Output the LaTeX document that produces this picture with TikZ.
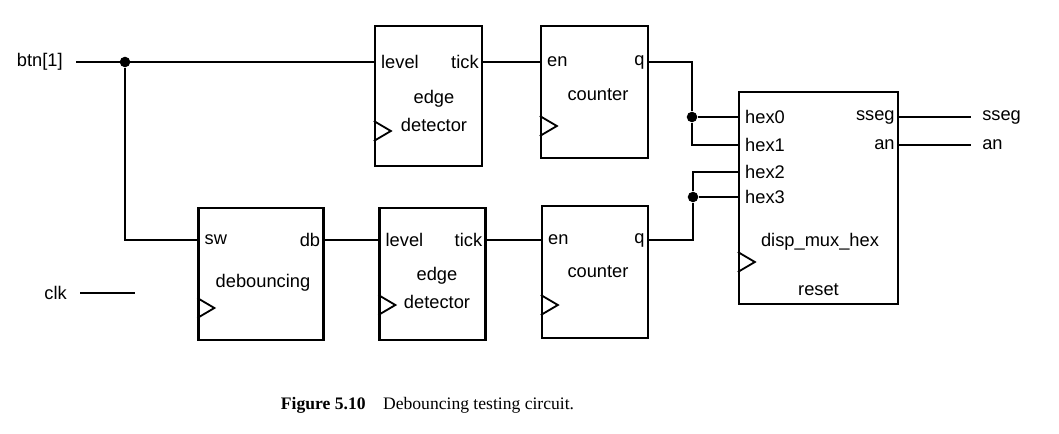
\documentclass[tikz,border=0pt]{standalone}
\usepackage{fontspec}
\setmainfont{Liberation Sans}
\newfontfamily\capfont{Liberation Serif}
\usepackage{tikz}

\tikzset{
    block/.style={draw, line width=1.6pt, inner sep=0pt},
    wire/.style={line width=1.6pt},
    port/.style={inner sep=2pt, font=\fontsize{13}{15}\selectfont},
    junction/.style={circle, fill, inner sep=0pt, minimum size=7.5pt},
}

\begin{document}
\begin{tikzpicture}[x=0.025cm, y=-0.025cm, font=\fontsize{13}{15}\selectfont]
    \useasboundingbox (0,0) rectangle (1059,434);

    % Draw the blocks
    \node[block, minimum width=2.675cm, minimum height=3.5cm] (ed1) at (428.5,96) {};
    \node[block, minimum width=2.675cm, minimum height=3.3cm] (cnt1) at (594.5,92) {};
    \node[block, minimum width=3.125cm, minimum height=3.3cm] (deb) at (261,274) {};
    \node[block, minimum width=2.65cm, minimum height=3.3cm] (ed2) at (432.5,274) {};
    \node[block, minimum width=2.65cm, minimum height=3.3cm] (cnt2) at (595,272) {};
    \node[block, minimum width=3.975cm, minimum height=5.3cm] (mux) at (818.5,198) {};

    % Block titles
    \node[align=center, font=\fontsize{13}{20}\selectfont] (ed1-name) at (434,111) {edge\\detector};
    \node (cnt1-name) at (598,95) {counter};
    \node (deb-name) at (263,283) {debouncing};
    \node[align=center, font=\fontsize{13}{20}\selectfont] (ed2-name) at (437,288) {edge\\detector};
    \node (cnt2-name) at (598,272) {counter};
    \node (mux-name) at (820,242) {disp\_mux\_hex};
    \node (mux-rst) at (818.5,290) {reset};

    % Define coordinates for the ports
    \coordinate (ed1-lvl) at (ed1.west |- 0,62);
    \coordinate (ed1-tick) at (ed1.east |- 0,62);
    \coordinate (cnt1-en) at (cnt1.west |- 0,62);
    \coordinate (cnt1-q) at (cnt1.east |- 0,62);
    \coordinate (deb-sw) at (deb.west |- 0,240);
    \coordinate (deb-db) at (deb.east |- 0,240);
    \coordinate (ed2-lvl) at (ed2.west |- 0,240);
    \coordinate (ed2-tick) at (ed2.east |- 0,240);
    \coordinate (cnt2-en) at (cnt2.west |- 0,240);
    \coordinate (cnt2-q) at (cnt2.east |- 0,240);
    \coordinate (mux-hex0) at (mux.west |- 0,117);
    \coordinate (mux-hex1) at (mux.west |- 0,145);
    \coordinate (mux-hex2) at (mux.west |- 0,172);
    \coordinate (mux-hex3) at (mux.west |- 0,197);
    \coordinate (mux-sseg) at (mux.east |- 0,117);
    \coordinate (mux-an) at (mux.east |- 0,145);

    % Port labels
    \foreach \p/\t in {ed1-lvl/level, cnt1-en/en, deb-sw/sw, ed2-lvl/level, cnt2-en/en,
                       mux-hex0/hex0, mux-hex1/hex1, mux-hex2/hex2, mux-hex3/hex3}
        \node[port, anchor=west, xshift=3pt] (\p-lbl) at (\p) {\t};
    \foreach \p/\t in {ed1-tick/tick, cnt1-q/q, deb-db/db, ed2-tick/tick, cnt2-q/q,
                       mux-sseg/sseg, mux-an/an}
        \node[port, anchor=east, xshift=-1pt] (\p-lbl) at (\p) {\t};

    % Clock triangles
    \foreach \b/\y in {ed1/131, cnt1/126, deb/308, ed2/305, cnt2/305, mux/262}
        \draw[line width=1.3pt] (\b.west |- 0,{\y-10}) -- ++(17,10) -- ++(-17,10);

    % Outer signals
    \node[anchor=east, inner sep=0pt] (btn) at (63,62) {btn[1]};
    \node[anchor=east, inner sep=0pt] (clk) at (67,293) {clk};
    \node[anchor=west, inner sep=0pt] (sseg) at (982,117) {sseg};
    \node[anchor=west, inner sep=0pt] (an) at (982,145) {an};
    \coordinate (btn-end) at (76,62);
    \coordinate (clk-end) at (80,293);

    % Junctions
    \node[junction] (j1) at (125,62) {};
    \node[junction] (j2) at (692,117) {};
    \node[junction] (j3) at (693,197) {};

    % Connect the blocks
    \draw[wire] (btn-end) -- (ed1-lvl);
    \draw[wire] (j1) |- (deb-sw);
    \draw[wire] (clk-end) -- ++(55,0);
    \draw[wire] (ed1-tick) -- (cnt1-en);
    \draw[wire] (deb-db) -- (ed2-lvl);
    \draw[wire] (ed2-tick) -- (cnt2-en);
    \draw[wire] (cnt1-q) -| (j2) |- (mux-hex1);
    \draw[wire] (j2) -- (mux-hex0);
    \draw[wire] (cnt2-q) -| (j3) |- (mux-hex2);
    \draw[wire] (j3) -- (mux-hex3);
    \draw[wire] (mux-sseg) -- ++(72,0);
    \draw[wire] (mux-an) -- ++(72,0);

    % Caption
    \node[font=\capfont\fontsize{12.5}{15}\selectfont] (caption) at (427.5,405)
        {\textbf{Figure 5.10}\quad Debouncing testing circuit.};

\end{tikzpicture}
\end{document}
